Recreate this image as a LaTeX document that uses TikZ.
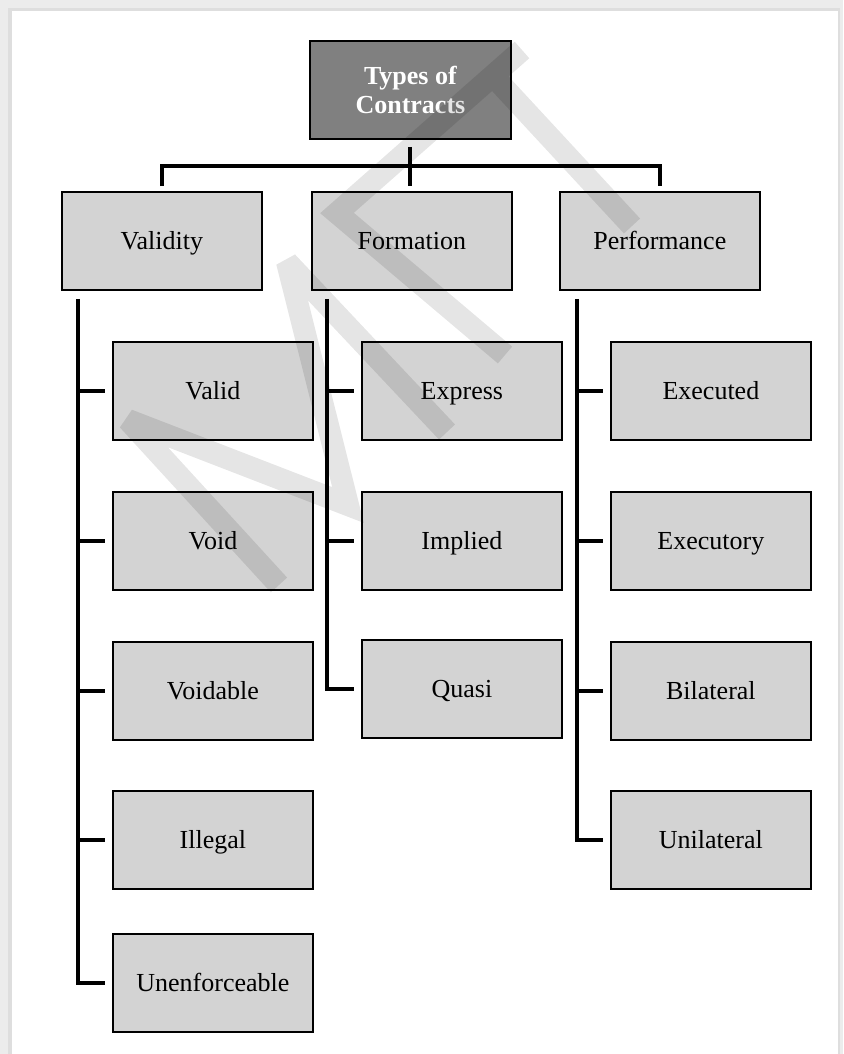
\documentclass[tikz,border=0pt]{standalone}
\usepackage{fontspec}
\setmainfont{Liberation Serif}
\usetikzlibrary{calc}
\definecolor{boxgray}{RGB}{211,211,211}
\definecolor{topgray}{RGB}{128,128,128}
\definecolor{framegray}{RGB}{236,236,236}
\definecolor{edgegray}{RGB}{222,222,222}
\begin{document}
\begin{tikzpicture}[x=1pt,y=-1pt,
  box/.style={draw=black,line width=1.8pt,fill=boxgray,minimum width=200pt,minimum height=98pt,
    inner sep=0pt,anchor=north west,font=\fontsize{26}{29}\selectfont,text=black,
    text height=17pt,text depth=0pt},
  topbox/.style={draw=black,line width=1.8pt,fill=topgray,minimum width=201pt,minimum height=98pt,
    inner sep=0pt,anchor=north west,text=white,align=center,font=\fontsize{26}{29}\selectfont\bfseries},
  conn/.style={draw=black,line width=4pt,line join=miter,line cap=butt},
  wm/.style={draw=black,draw opacity=0.1,line width=22pt,line join=miter,miter limit=3,line cap=butt}]
% page frame
\useasboundingbox (0,0) rectangle (843,1054);
\fill[framegray] (0,0) rectangle (843,1054);
\fill[edgegray] (8,8) rectangle (840,1054);
\fill[white] (12,11) rectangle (838,1054);
% top level
\node[topbox] (top) at (309,40) {Types of\\Contracts};
\node[box] (val) at (61,191) {Validity};
\node[box] (form) at (311,191) {Formation};
\node[box] (perf) at (559,191) {Performance};
% validity children
\node[box] (v1) at (112,341) {Valid};
\node[box] (v2) at (112,491) {Void};
\node[box] (v3) at (112,641) {Voidable};
\node[box] (v4) at (112,790) {Illegal};
\node[box] (v5) at (112,933) {Unenforceable};
% formation children
\node[box] (f1) at (361,341) {Express};
\node[box] (f2) at (361,491) {Implied};
\node[box] (f3) at (361,639) {Quasi};
% performance children
\node[box] (p1) at (610,341) {Executed};
\node[box] (p2) at (610,491) {Executory};
\node[box] (p3) at (610,641) {Bilateral};
\node[box] (p4) at (610,790) {Unilateral};
% top connectors
\coordinate (bar) at (409,166);
\draw[conn] ($(top.south)+(0,7)$) -- ($(top.south |- form.north)+(0,-5)$);
\draw[conn] ($(val.north)+(0,-5)$) |- (bar) -| ($(perf.north)+(0,-5)$);
% validity branch
\coordinate (vl) at ($(val.south west)+(17,8)$);
\draw[conn] (vl) |- ($(v5.west)+(-7,0)$);
\foreach \c in {v1,v2,v3,v4}{\draw[conn] (vl |- \c.west) -- ($(\c.west)+(-7,0)$);}
% formation branch
\coordinate (fl) at ($(form.south west)+(16,8)$);
\draw[conn] (fl) |- ($(f3.west)+(-7,0)$);
\foreach \c in {f1,f2}{\draw[conn] (fl |- \c.west) -- ($(\c.west)+(-7,0)$);}
% performance branch
\coordinate (pl) at ($(perf.south west)+(18,8)$);
\draw[conn] (pl) |- ($(p4.west)+(-7,0)$);
\foreach \c in {p1,p2,p3}{\draw[conn] (pl |- \c.west) -- ($(\c.west)+(-7,0)$);}
% watermark
\draw[wm] (279,585) -- (128,420) -- (348,505) -- (287,262) -- (447,432)
          (505,355) -- (337,213) -- (522,50)
          (495,78) -- (632,226);
\end{tikzpicture}
\end{document}
